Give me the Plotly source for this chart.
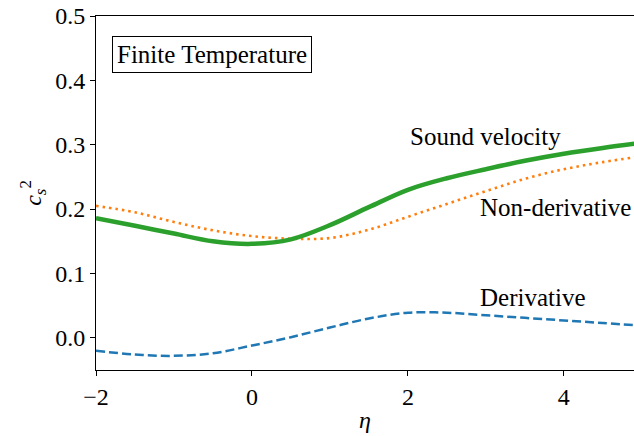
import plotly.graph_objects as go

eta = [-2, -1.5, -1, -0.5, 0, 0.5, 1, 1.5, 2, 2.5, 3, 3.5, 4, 4.5, 5]
sound_velocity = [0.186, 0.174, 0.162, 0.150, 0.146, 0.153, 0.175, 0.203, 0.230, 0.248, 0.262, 0.275, 0.286, 0.295, 0.303]
non_derivative = [0.205, 0.195, 0.180, 0.167, 0.158, 0.154, 0.155, 0.168, 0.188, 0.208, 0.228, 0.247, 0.262, 0.273, 0.282]
derivative = [-0.020, -0.026, -0.028, -0.024, -0.012, 0.001, 0.016, 0.030, 0.039, 0.039, 0.035, 0.031, 0.027, 0.023, 0.019]

xticks = [-2, 0, 2, 4]
xticklabels = ["\u22122", "0", "2", "4"]
yticks = [0.0, 0.1, 0.2, 0.3, 0.4, 0.5]
yticklabels = ["0.0", "0.1", "0.2", "0.3", "0.4", "0.5"]

FONT = "Times New Roman, Liberation Serif, DejaVu Serif, serif"
TICK = 24
TXT = 25

fig = go.Figure()
fig.add_trace(go.Scatter(x=eta, y=derivative, mode="lines", line=dict(color="#1f77b4", width=2.5, dash="9px,4px", shape="spline"), name="Derivative"))
fig.add_trace(go.Scatter(x=eta, y=non_derivative, mode="lines", line=dict(color="#ff7f0e", width=2.6, dash="2.5px,4px", shape="spline"), name="Non-derivative"))
fig.add_trace(go.Scatter(x=eta, y=sound_velocity, mode="lines", line=dict(color="#2ca02c", width=4.5, shape="spline"), name="Sound velocity"))

fig.update_layout(
    width=634, height=436,
    margin=dict(l=96, r=0, t=16, b=66),
    paper_bgcolor="white", plot_bgcolor="white",
    showlegend=False,
    font=dict(family=FONT, size=TICK, color="black"),
)
fig.update_xaxes(
    range=[-2, 4.9], tickmode="array", tickvals=xticks, ticktext=xticklabels,
    showgrid=False, zeroline=False, showline=True, linecolor="black", linewidth=1,
    mirror=True, ticks="outside", ticklen=5, tickcolor="black",
    tickfont=dict(family=FONT, size=TICK, color="black"),
    title=dict(text="<i>\u03b7</i>", font=dict(family=FONT, size=TICK, color="black"), standoff=2),
)
fig.update_yaxes(
    range=[-0.05, 0.5], tickmode="array", tickvals=yticks, ticktext=yticklabels,
    showgrid=False, zeroline=False, showline=True, linecolor="black", linewidth=1,
    mirror=False, ticks="outside", ticklen=5, tickcolor="black",
    tickfont=dict(family=FONT, size=TICK, color="black"),
    title=dict(text="<i>c</i><sub><i>s</i></sub><sup>2</sup>", font=dict(family=FONT, size=TICK, color="black"), standoff=6),
)

fig.add_annotation(x=0.03, y=0.891, xref="paper", yref="paper", xanchor="left", yanchor="middle",
                   text="Finite Temperature", showarrow=False, font=dict(family=FONT, size=TXT, color="black"),
                   bordercolor="black", borderwidth=1, borderpad=4, bgcolor="white")
fig.add_annotation(x=2.0, y=0.313, xref="x", yref="y", xanchor="left", yanchor="middle",
                   text="Sound velocity", showarrow=False, font=dict(family=FONT, size=TXT, color="black"))
fig.add_annotation(x=2.9, y=0.203, xref="x", yref="y", xanchor="left", yanchor="middle",
                   text="Non-derivative", showarrow=False, font=dict(family=FONT, size=TXT, color="black"))
fig.add_annotation(x=2.9, y=0.063, xref="x", yref="y", xanchor="left", yanchor="middle",
                   text="Derivative", showarrow=False, font=dict(family=FONT, size=TXT, color="black"))

fig.write_html("out.html")
